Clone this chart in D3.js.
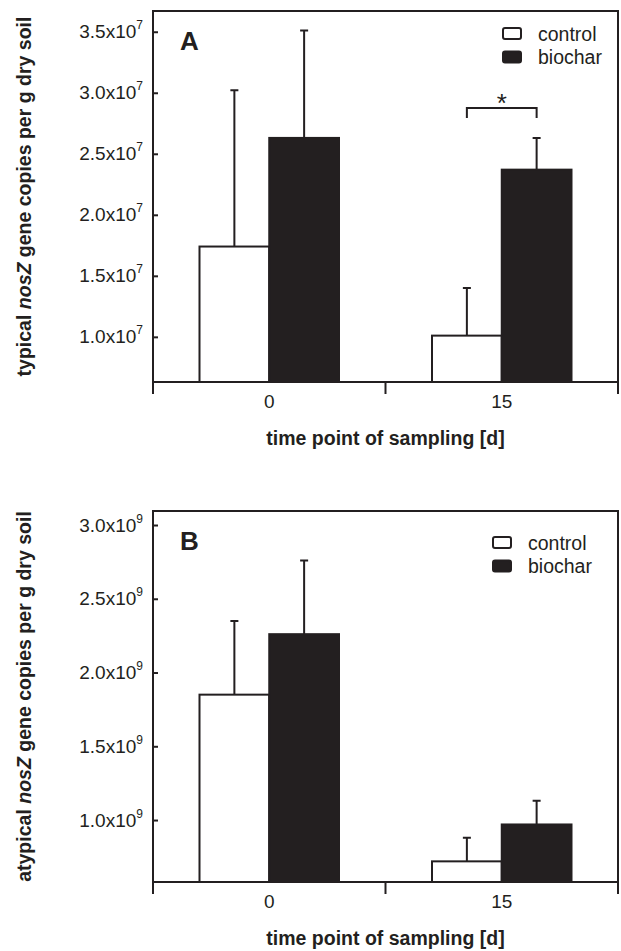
<!DOCTYPE html>
<html lang="en">
<head>
  <meta charset="UTF-8">
  <title>nosZ gene copies</title>
  <script src="https://d3js.org/d3.v7.min.js"></script>
  <style>
    body { margin: 0; background: #fff; }
    text { font-family: Arial, "Liberation Sans", sans-serif; fill: #231f20; }
  </style>
</head>
<body>
  <div id="chart"></div>

  <script>
  // values (means and upper error)
  const timePoints = ["0", "15"];
  const treatments = ["control", "biochar"];

  const typicalControl = [1.74e7, 1.01e7];
  const typicalControlSE = [1.28e7, 0.39e7];
  const typicalBiochar = [2.63e7, 2.37e7];
  const typicalBiocharSE = [0.88e7, 0.26e7];

  const atypicalControl = [1.85e9, 0.72e9];
  const atypicalControlSE = [0.50e9, 0.16e9];
  const atypicalBiochar = [2.26e9, 0.97e9];
  const atypicalBiocharSE = [0.50e9, 0.16e9];

  const typicalTicks = [1.0e7, 1.5e7, 2.0e7, 2.5e7, 3.0e7, 3.5e7];
  const atypicalTicks = [1.0e9, 1.5e9, 2.0e9, 2.5e9, 3.0e9];

  const W = 621, H = 951;
  const left = 153, right = 618, plotH = 371;
  const ink = "#231f20";

  const panels = [
    { letter: "A", prefix: "typical ", top: 11, domain: [0.63e7, 3.67e7], exp: 7,
      ticks: typicalTicks, values: [typicalControl, typicalBiochar],
      errors: [typicalControlSE, typicalBiocharSE], legend: [503, 28], star: "15" },
    { letter: "B", prefix: "atypical ", top: 511, domain: [0.58e9, 3.095e9], exp: 9,
      ticks: atypicalTicks, values: [atypicalControl, atypicalBiochar],
      errors: [atypicalControlSE, atypicalBiocharSE], legend: [493, 537], star: null }
  ];

  const svg = d3.select("#chart").append("svg")
    .attr("width", W).attr("height", H);

  const x0 = d3.scaleBand().domain(timePoints).range([left, right]);
  const x1 = d3.scaleBand().domain(treatments)
    .range([x0.bandwidth() * 0.2, x0.bandwidth() * 0.8]);

  function drawPanel(p) {
    const bottom = p.top + plotH;
    const y = d3.scaleLinear().domain(p.domain).range([bottom, p.top]);
    const g = svg.append("g");

    const rows = timePoints.flatMap((t, i) =>
      treatments.map((s, j) => ({ t, s, v: p.values[j][i], e: p.errors[j][i] })));
    const cx = d => x0(d.t) + x1(d.s) + x1.bandwidth() / 2;

    // error bars first, bars drawn over them
    g.selectAll("path.err").data(rows).join("path")
      .attr("d", d => `M${cx(d)},${y(d.v)}V${y(d.v + d.e)}M${cx(d) - 4},${y(d.v + d.e)}H${cx(d) + 4}`)
      .attr("stroke", ink).attr("stroke-width", 2).attr("fill", "none");

    g.selectAll("rect.bar").data(rows).join("rect")
      .attr("x", d => x0(d.t) + x1(d.s))
      .attr("width", x1.bandwidth())
      .attr("y", d => y(d.v))
      .attr("height", d => bottom - y(d.v))
      .attr("fill", d => d.s === "control" ? "#fff" : ink)
      .attr("stroke", ink).attr("stroke-width", 2);

    // frame
    g.append("rect")
      .attr("x", left).attr("y", p.top)
      .attr("width", right - left).attr("height", plotH)
      .attr("fill", "none").attr("stroke", ink).attr("stroke-width", 2);

    // y axis, ticks pointing inward
    const ya = g.append("g")
      .attr("transform", `translate(${left},0)`)
      .call(d3.axisLeft(y).tickValues(p.ticks).tickSize(-5).tickPadding(10));
    ya.select(".domain").remove();
    ya.selectAll(".tick line").attr("stroke", ink).attr("stroke-width", 2);
    ya.selectAll(".tick text")
      .attr("font-size", 19).attr("font-family", null).attr("fill", ink)
      .each(function(d) {
        const t = d3.select(this);
        t.text((d / 10 ** p.exp).toFixed(1) + "x10");
        t.append("tspan").attr("dy", -9).attr("font-size", 12).text(p.exp);
      });
    g.append("line")
      .attr("x1", left).attr("x2", left)
      .attr("y1", bottom).attr("y2", bottom + 12)
      .attr("stroke", ink).attr("stroke-width", 2);

    // x axis: ticks at category boundaries
    const bounds = timePoints.map(t => x0(t)).concat([right]);
    g.selectAll("line.xt").data(bounds).join("line")
      .attr("x1", d => d).attr("x2", d => d)
      .attr("y1", bottom).attr("y2", bottom + 12)
      .attr("stroke", ink).attr("stroke-width", 2);
    g.selectAll("text.xl").data(timePoints).join("text")
      .attr("x", d => x0(d) + x0.bandwidth() / 2)
      .attr("y", bottom + 26)
      .attr("text-anchor", "middle").attr("font-size", 19)
      .text(d => d);

    g.append("text")
      .attr("x", (left + right) / 2).attr("y", bottom + 63)
      .attr("text-anchor", "middle").attr("font-size", 19.5).attr("font-weight", "bold")
      .text("time point of sampling [d]");

    const yt = g.append("text")
      .attr("transform", `translate(31,${(p.top + bottom) / 2}) rotate(-90)`)
      .attr("text-anchor", "middle").attr("font-size", 19.5).attr("font-weight", "bold");
    yt.append("tspan").text(p.prefix);
    yt.append("tspan").attr("font-style", "italic").text("nosZ");
    yt.append("tspan").text(" gene copies per g dry soil");

    // panel letter
    g.append("text")
      .attr("x", 180).attr("y", p.top + 39)
      .attr("font-size", 26).attr("font-weight", "bold")
      .text(p.letter);

    // legend
    const [lx, ly] = p.legend;
    treatments.forEach((s, i) => {
      g.append("rect")
        .attr("x", lx).attr("y", ly + i * 23.5)
        .attr("width", 18).attr("height", 11).attr("rx", 2)
        .attr("fill", s === "control" ? "#fff" : ink)
        .attr("stroke", ink).attr("stroke-width", 2);
      g.append("text")
        .attr("x", lx + 35).attr("y", ly + 12.5 + i * 23.5)
        .attr("font-size", 19.5)
        .text(s);
    });

    // significance bracket
    if (p.star) {
      const i = timePoints.indexOf(p.star);
      const xa = x0(p.star) + x1("control") + x1.bandwidth() / 2;
      const xb = x0(p.star) + x1("biochar") + x1.bandwidth() / 2;
      const topErr = d3.max(p.values, (v, j) => v[i] + p.errors[j][i]);
      const yb = y(topErr) - 30;
      g.append("path")
        .attr("d", `M${xa},${yb + 10}V${yb}H${xb}V${yb + 10}`)
        .attr("fill", "none").attr("stroke", ink).attr("stroke-width", 2);
      g.append("text")
        .attr("x", (xa + xb) / 2).attr("y", yb + 4)
        .attr("text-anchor", "middle").attr("font-size", 26)
        .text("*");
    }
  }

  panels.forEach(drawPanel);
  </script>
</body>
</html>
